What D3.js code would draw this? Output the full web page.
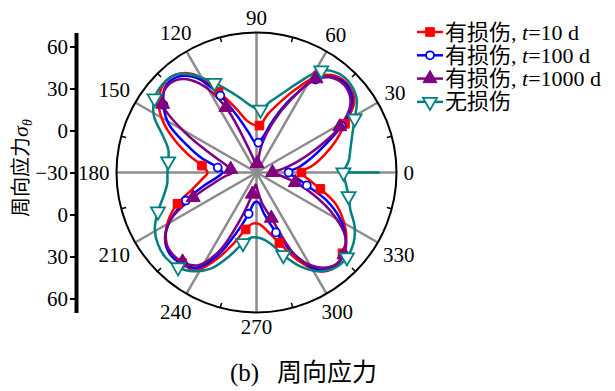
<!DOCTYPE html>
<html>
<head>
<meta charset="utf-8">
<script src="https://cdn.jsdelivr.net/npm/d3@7"></script>
<style>
  body { margin: 0; background: #fff; }
  svg { display: block; }
  text { font-family: "Liberation Serif", "Times New Roman", "Noto Sans CJK SC", serif; fill: #000; }
</style>
</head>
<body>
<svg id="chart" width="615" height="391"></svg>
<script>
// sampled angles (deg), one marker every 4th point
const angles = [0,7.2,14.4,21.6,28.8,36,43.2,50.4,57.6,64.8,72,79.2,86.4,
  93.6,100.8,108,115.2,122.4,129.6,136.8,144,151.2,158.4,165.6,172.8,
  180,187.2,194.4,201.6,208.8,216,223.2,230.4,237.6,244.8,252,259.2,266.4,
  273.6,280.8,288,295.2,302.4,309.6,316.8,324,331.2,338.4,345.6,352.8];

// hoop stress
const damaged10 = [2.1,10.7,20,30.7,42.1,56.4,60.4,59.3,51.4,35.7,22.1,12.1,3.6,
  4.3,7.9,18.6,33.6,52.9,60.7,61.4,56.4,46.4,32.9,20,9.3,
  5,9.3,17.1,30.7,42.1,50,54.3,53.6,52.9,39.3,23.6,11.4,6.4,
  7.1,12.9,22.9,39.3,53.6,57.9,54.3,49.3,40.7,30.7,17.1,7.1];
const damaged100 = [-7.1,0.7,10,22.1,39.3,54.3,59.6,57.9,48.6,28.6,10,-3.6,-8.6,
  -7.9,-1.4,10.7,30.7,50,58.6,59.3,52.1,41.4,23.6,10,-2.1,
  -5.7,-1.4,9.3,24.3,40,50.7,55,54.3,50.7,35.7,14.3,0,-8.6,
  -8.6,0.7,15,35.7,52.1,57.1,55.7,48.6,37.9,23.6,7.1,-1.4];
const damaged1000 = [-18.6,-12.1,-0.7,15.7,37.9,52.9,58.2,57.1,49.3,27.1,7.1,-9.3,-23.6,
  -24.3,-21.4,-12.1,21.4,45,56.4,58.6,52.9,27.1,4.3,-7.1,-11.4,
  -12.9,-7.1,2.1,18.6,40,50.7,53.6,52.9,48.6,31.4,2.1,-14.3,-21.4,
  -17.1,-7.1,4.3,35.7,50,56.4,55.7,48.6,32.9,14.3,-1.4,-12.9];
const intact = [32.1,36.4,39.3,43.6,50,58.6,62.1,61.8,56.4,41.4,29.3,21.4,15,
  17.1,22.9,30.7,40.7,52.1,60.7,62.1,60,53.6,42.1,35,33.6,
  33.6,34.3,38.6,45.7,52.9,57.1,58.9,57.9,53.6,45.7,32.9,21.4,16.4,
  17.1,21.4,32.1,44.3,53.6,58.2,58.6,55.7,50,42.1,37.9,34.3];
const intactSeam = [32.1, 57.9]; // short teal stroke along 0 deg

const angleTicks = [0,30,60,90,120,150,180,210,240,270,300,330];
const radialTicksUp = [-30,0,30,60];
const radialTicksDown = [0,30,60];
const legendTimes = ["10", "100", "1000"];

const svg = d3.select("#chart");
const cx = 256.5, cy = 172.5, R = 140;
const rScale = d3.scaleLinear().domain([-30, 70]).range([0, R]);
const rad = (a) => a * Math.PI / 180;

const g = svg.append("g");

// spokes
g.selectAll("line.spoke").data(angleTicks).enter().append("line")
  .attr("x1", cx).attr("y1", cy)
  .attr("x2", (a) => cx + R * Math.cos(rad(a)))
  .attr("y2", (a) => cy - R * Math.sin(rad(a)))
  .attr("stroke", "#8c8c8c").attr("stroke-width", 2.5);

// outer circle
g.append("circle").attr("cx", cx).attr("cy", cy).attr("r", R)
  .attr("fill", "none").attr("stroke", "#000").attr("stroke-width", 2);

// minor ticks between labels
g.selectAll("line.minor").data(angleTicks.map((a) => a + 15)).enter().append("line")
  .attr("x1", (a) => cx + R * Math.cos(rad(a)))
  .attr("y1", (a) => cy - R * Math.sin(rad(a)))
  .attr("x2", (a) => cx + (R - 5) * Math.cos(rad(a)))
  .attr("y2", (a) => cy - (R - 5) * Math.sin(rad(a)))
  .attr("stroke", "#000").attr("stroke-width", 1.5);

// angle labels
g.selectAll("text.ang").data(angleTicks).enter().append("text")
  .attr("font-size", 21)
  .attr("text-anchor", "middle")
  .attr("dominant-baseline", "central")
  .text((a) => a)
  .each(function (a) {
    const w = this.getComputedTextLength();
    const d = R + 7 + Math.abs(Math.cos(rad(a))) * w / 2 + Math.abs(Math.sin(rad(a))) * 7.5;
    d3.select(this)
      .attr("x", cx + d * Math.cos(rad(a)))
      .attr("y", cy - d * Math.sin(rad(a)));
  });

// series
const series = [
  { name: "d10", values: damaged10, color: "#ff0000", symbol: d3.symbolSquare, size: 75, fill: "#ff0000", rot: 0 },
  { name: "d100", values: damaged100, color: "#0000ff", symbol: d3.symbolCircle, size: 50, fill: "#fff", rot: 0 },
  { name: "d1000", values: damaged1000, color: "#800080", symbol: d3.symbolTriangle, size: 85, fill: "#800080", rot: 0 },
  { name: "intact", values: intact, color: "#008080", symbol: d3.symbolTriangle, size: 85, fill: "#fff", rot: 180 }
];

const line = d3.lineRadial()
  .angle((d) => rad(90 - d[0]))
  .radius((d) => rScale(d[1]))
  .curve(d3.curveCatmullRomClosed.alpha(0.5));

const plot = g.append("g").attr("transform", `translate(${cx},${cy})`);

series.forEach((s) => {
  const pts = angles.map((a, i) => [a, s.values[i]]);
  plot.append("path").datum(pts)
    .attr("d", line)
    .attr("fill", "none")
    .attr("stroke", s.color)
    .attr("stroke-width", 2.5);
  if (s.name === "intact") {
    plot.append("line")
      .attr("x1", rScale(intactSeam[0])).attr("y1", 0)
      .attr("x2", rScale(intactSeam[1])).attr("y2", 0)
      .attr("stroke", s.color).attr("stroke-width", 2.5);
  }
});

series.forEach((s) => {
  const pts = angles.map((a, i) => [a, s.values[i]]).filter((d, i) => i % 4 === 0);
  plot.selectAll(null).data(pts).enter().append("path")
    .attr("d", d3.symbol().type(s.symbol).size(s.size))
    .attr("transform", (d) => {
      const r = rScale(d[1]);
      return `translate(${r * Math.cos(rad(d[0]))},${-r * Math.sin(rad(d[0]))}) rotate(${s.rot})`;
    })
    .attr("fill", s.fill)
    .attr("stroke", s.color)
    .attr("stroke-width", s.fill === "#fff" ? 1.8 : 1);
});

// left radial axis, mirrored around the centre
const yUp = d3.scaleLinear().domain([-30, 70]).range([cy, cy - R]);
const yDown = d3.scaleLinear().domain([-30, 70]).range([cy, cy + R]);
const axX = 76;
[[yUp, radialTicksUp], [yDown, radialTicksDown]].forEach(([sc, tv]) => {
  const ax = svg.append("g").attr("transform", `translate(${axX},0)`)
    .call(d3.axisLeft(sc).tickValues(tv).tickSizeOuter(0).tickSizeInner(6).tickPadding(2));
  ax.select(".domain").attr("stroke-width", 4).attr("stroke", "#000");
  ax.selectAll(".tick line").attr("stroke-width", 2);
  ax.selectAll(".tick text").attr("font-size", 21)
    .attr("font-family", "Liberation Serif, Times New Roman, serif");
});

// axis title
const yt = svg.append("text")
  .attr("transform", "translate(28,168) rotate(-90)")
  .attr("text-anchor", "middle")
  .attr("font-size", 20);
yt.append("tspan").text("周向应力");
yt.append("tspan").attr("font-style", "italic").attr("font-size", 22).text("σ");
yt.append("tspan").attr("font-style", "italic").attr("font-size", 14).attr("dy", 4).text("θ");

// legend
const lg = svg.append("g");
series.forEach((s, i) => {
  const y = 32 + i * 23.3;
  lg.append("line").attr("x1", 417).attr("x2", 443).attr("y1", y).attr("y2", y)
    .attr("stroke", s.color).attr("stroke-width", 2.5);
  lg.append("path")
    .attr("d", d3.symbol().type(s.symbol).size(s.size))
    .attr("transform", `translate(430,${y}) rotate(${s.rot})`)
    .attr("fill", s.fill).attr("stroke", s.color)
    .attr("stroke-width", s.fill === "#fff" ? 1.8 : 1);
  const t = lg.append("text").attr("x", 445).attr("y", y + 7.5).attr("font-size", 22);
  if (i < 3) {
    t.append("tspan").text("有损伤, ");
    t.append("tspan").attr("font-style", "italic").text("t");
    t.append("tspan").text("=" + legendTimes[i] + " d");
  } else {
    t.text("无损伤");
  }
});

// caption
const cap = svg.append("text").attr("y", 381).attr("font-size", 25);
cap.append("tspan").attr("x", 230).text("(b)");
cap.append("tspan").attr("x", 277).text("周向应力");
</script>
</body>
</html>
